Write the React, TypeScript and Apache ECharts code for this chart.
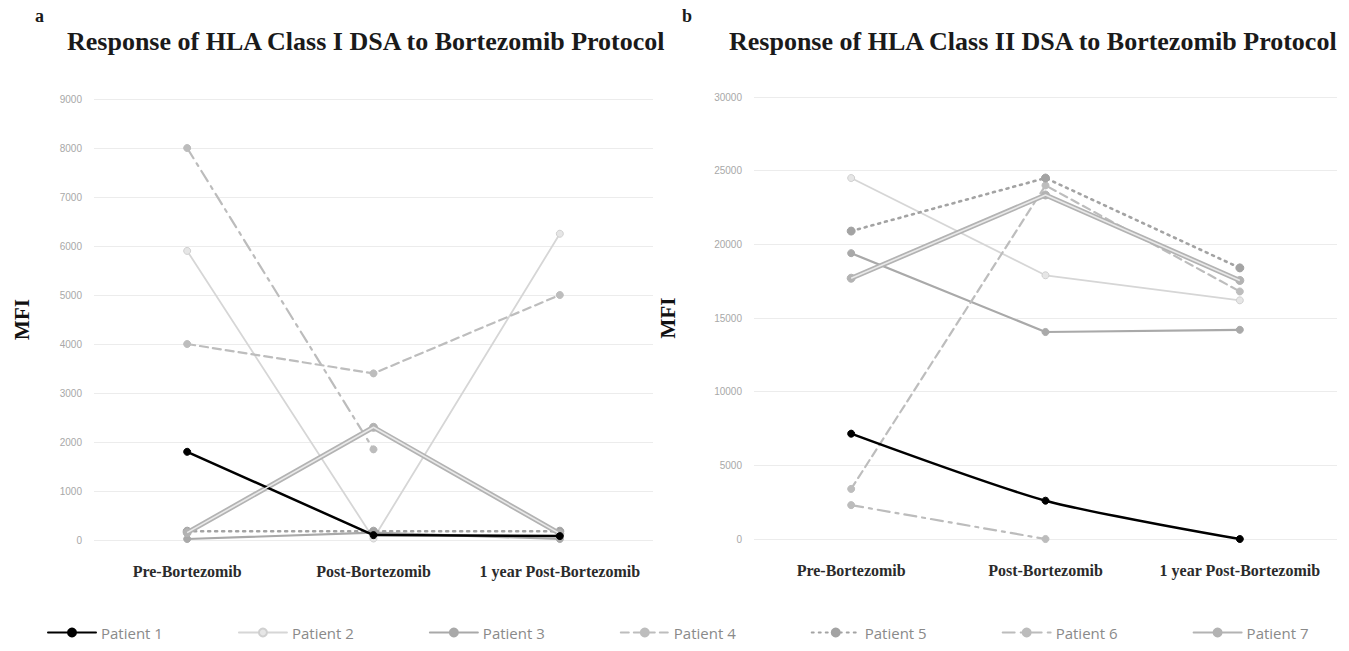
import React, { useEffect, useRef } from "react";
import * as echarts from "echarts";

const categories = ["Pre-Bortezomib", "Post-Bortezomib", "1 year Post-Bortezomib"];
const patientNames = ["Patient 1", "Patient 2", "Patient 3", "Patient 4", "Patient 5", "Patient 6", "Patient 7"];

// Class I DSA (MFI)
const classIPatient1 = [1800, 100, 80];
const classIPatient2 = [5900, 30, 6250];
const classIPatient3 = [20, 150, 20];
const classIPatient4 = [4000, 3400, 5000];
const classIPatient5 = [180, 180, 180];
const classIPatient6 = [8000, 1850, null];
const classIPatient7 = [150, 2300, 130];

// Class II DSA (MFI)
const classIIPatient1 = [7150, 2600, 0];
const classIIPatient2 = [24500, 17900, 16200];
const classIIPatient3 = [19400, 14050, 14200];
const classIIPatient4 = [3400, 24000, 16800];
const classIIPatient5 = [20900, 24500, 18400];
const classIIPatient6 = [2300, 0, null];
const classIIPatient7 = [17700, 23350, 17550];

const classIMax = 9000;
const classIInterval = 1000;
const classIIMax = 30000;
const classIIInterval = 5000;

const classIData = [classIPatient1, classIPatient2, classIPatient3, classIPatient4, classIPatient5, classIPatient6, classIPatient7];
const classIIData = [classIIPatient1, classIIPatient2, classIIPatient3, classIIPatient4, classIIPatient5, classIIPatient6, classIIPatient7];

const styles: any[] = [
  { color: "#000000", width: 2.5, type: "solid", symbolSize: 7, itemColor: "#000000", border: "#000000" },
  { color: "#d6d6d6", width: 1.8, type: "solid", symbolSize: 7, itemColor: "#e6e6e6", border: "#d0d0d0" },
  { color: "#a9a9a9", width: 2.2, type: "solid", symbolSize: 7, itemColor: "#a9a9a9", border: "#a9a9a9" },
  { color: "#bdbdbd", width: 2.2, type: [8, 5], symbolSize: 7, itemColor: "#bdbdbd", border: "#bdbdbd" },
  { color: "#a3a3a3", width: 2.6, type: [2, 5], symbolSize: 8, itemColor: "#a3a3a3", border: "#a3a3a3" },
  { color: "#bcbcbc", width: 2.2, type: [12, 6, 3, 6], symbolSize: 7, itemColor: "#bcbcbc", border: "#bcbcbc" },
  { color: "#b3b3b3", width: 5, type: "solid", symbolSize: 8, itemColor: "#b3b3b3", border: "#b3b3b3" },
];

function buildSeries(data: any[], axisIndex: number, smoothFirst: boolean) {
  const out: any[] = [];
  data.forEach((values, i) => {
    const s = styles[i];
    out.push({
      name: patientNames[i],
      type: "line",
      xAxisIndex: axisIndex,
      yAxisIndex: axisIndex,
      data: values,
      smooth: smoothFirst && i === 0 ? 0.25 : false,
      symbol: "circle",
      symbolSize: s.symbolSize,
      showAllSymbol: true,
      connectNulls: false,
      lineStyle: { color: s.color, width: s.width, type: s.type, cap: "round" },
      itemStyle: { color: s.itemColor, borderColor: s.border, borderWidth: 1 },
      z: i === 0 ? 10 : 3 + i,
    });
  });
  // inner light stroke for the double-line style of Patient 7
  out.push({
    name: "Patient 7 inner",
    type: "line",
    xAxisIndex: axisIndex,
    yAxisIndex: axisIndex,
    data: data[6],
    symbol: "none",
    lineStyle: { color: "#e9e9e9", width: 1.6 },
    silent: true,
    z: 10,
  });
  return out;
}

export default function App() {
  const ref = useRef<HTMLDivElement>(null);
  useEffect(() => {
    if (!ref.current) return;
    const chart = echarts.init(ref.current, null, { renderer: "svg" });
    const xAxisCommon = {
      type: "category",
      data: categories,
      boundaryGap: true,
      axisLine: { show: false },
      axisTick: { show: false },
      axisLabel: {
        color: "#2b2b2b",
        fontFamily: "Liberation Serif",
        fontWeight: "bold",
        fontSize: 16,
        margin: 23,
        interval: 0,
      },
    };
    const yAxisCommon = {
      type: "value",
      min: 0,
      axisLine: { show: false },
      axisTick: { show: false },
      splitLine: { lineStyle: { color: "#ececec", width: 1 } },
      axisLabel: {
        color: "#a8a8a8",
        fontFamily: "Liberation Sans",
        fontSize: 10,
        margin: 12,
        formatter: (v: number) => String(v),
      },
      name: "MFI",
      nameLocation: "middle",
      nameTextStyle: { fontFamily: "Liberation Serif", fontWeight: "bold", fontSize: 21, color: "#111" },
    };
    chart.setOption({
      animation: false,
      backgroundColor: "#ffffff",
      title: [
        {
          text: "Response of HLA Class I DSA to Bortezomib Protocol",
          left: 62,
          top: 23,
          textStyle: { fontFamily: "Liberation Serif", fontWeight: "bold", fontSize: 26, color: "#1a1a1a" },
        },
        {
          text: "Response of HLA Class II DSA to Bortezomib Protocol",
          left: 724,
          top: 23,
          textStyle: { fontFamily: "Liberation Serif", fontWeight: "bold", fontSize: 26, color: "#1a1a1a" },
        },
      ],
      graphic: [
        { type: "text", left: 35, top: 7, style: { text: "a", fontFamily: "Liberation Serif", fontWeight: "bold", fontSize: 18, fill: "#1a1a1a" } },
        { type: "text", left: 682, top: 7, style: { text: "b", fontFamily: "Liberation Serif", fontWeight: "bold", fontSize: 18, fill: "#1a1a1a" } },
      ],
      legend: {
        data: patientNames,
        bottom: 6,
        left: 42,
        itemWidth: 48,
        itemHeight: 10,
        itemGap: 75,
        textStyle: { color: "#8a8a8a", fontFamily: "Open Sans", fontSize: 15 },
      },
      grid: [
        { left: 94, right: 1349 - 653, top: 99, bottom: 651 - 540 },
        { left: 754, right: 1349 - 1337, top: 97, bottom: 651 - 539 },
      ],
      xAxis: [
        { ...xAxisCommon, gridIndex: 0 },
        { ...xAxisCommon, gridIndex: 1 },
      ],
      yAxis: [
        { ...yAxisCommon, gridIndex: 0, max: classIMax, interval: classIInterval, nameGap: 62 },
        { ...yAxisCommon, gridIndex: 1, max: classIIMax, interval: classIIInterval, nameGap: 76 },
      ],
      series: [...buildSeries(classIData, 0, false), ...buildSeries(classIIData, 1, true)],
    });
    return () => chart.dispose();
  }, []);
  return <div ref={ref} style={{ position: "absolute", left: 0, top: 0, width: 1349, height: 651 }} />;
}
